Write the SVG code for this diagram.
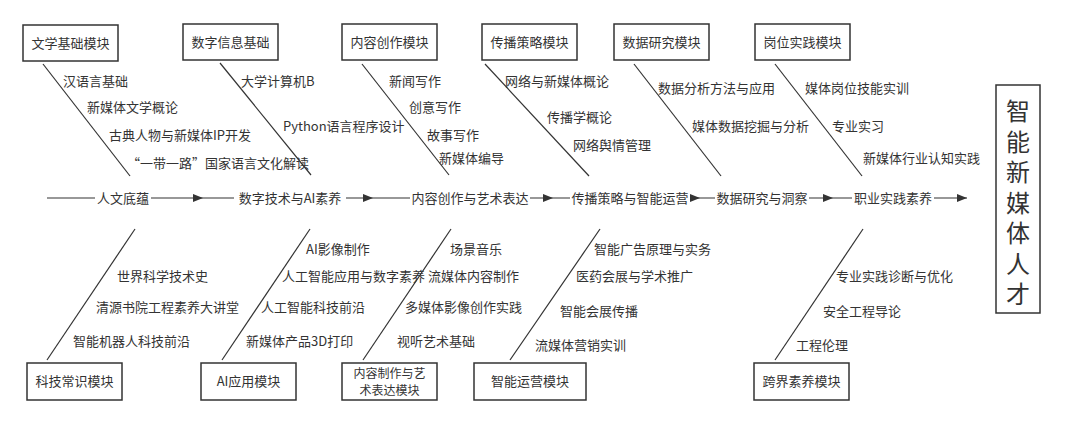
<svg xmlns="http://www.w3.org/2000/svg" width="1080" height="423" viewBox="0 0 1080 423">
<style>
text{font-family:"Noto Sans CJK SC","Noto Sans",sans-serif;font-size:13px;fill:#333}
.box{fill:#fff;stroke:#333;stroke-width:1.5}
.ln{stroke:#333;stroke-width:1.2;fill:none}
.ax{font-size:13px;text-anchor:middle}
.bt{text-anchor:middle;font-size:13px}
.b2{text-anchor:middle;font-size:12px}
.big{font-size:24px;text-anchor:middle}
</style>
<defs><marker id="ar" markerWidth="10" markerHeight="8" refX="10" refY="4" orient="auto" markerUnits="userSpaceOnUse"><path d="M0,0L10,4L0,8z" fill="#333"/></marker></defs>
<rect width="1080" height="423" fill="#fff"/>
<g id="connectors">
<line class="ln" x1="47" y1="198" x2="203" y2="198" marker-end="url(#ar)"/>
<line class="ln" x1="203" y1="198" x2="373" y2="198" marker-end="url(#ar)"/>
<line class="ln" x1="373" y1="198" x2="553" y2="198" marker-end="url(#ar)"/>
<line class="ln" x1="553" y1="198" x2="700" y2="198" marker-end="url(#ar)"/>
<line class="ln" x1="700" y1="198" x2="833" y2="198" marker-end="url(#ar)"/>
<line class="ln" x1="833" y1="198" x2="967" y2="198" marker-end="url(#ar)"/>
<line class="ln" x1="43" y1="64" x2="130" y2="176"/>
<line class="ln" x1="220" y1="63" x2="311" y2="175"/>
<line class="ln" x1="362" y1="64" x2="449" y2="175"/>
<line class="ln" x1="485" y1="64" x2="589" y2="176"/>
<line class="ln" x1="634" y1="64" x2="721" y2="176"/>
<line class="ln" x1="775" y1="64" x2="862" y2="176"/>
<line class="ln" x1="135" y1="229" x2="47" y2="360"/>
<line class="ln" x1="310" y1="229" x2="222" y2="360"/>
<line class="ln" x1="451" y1="229" x2="363" y2="360"/>
<line class="ln" x1="600" y1="229" x2="510" y2="360"/>
<line class="ln" x1="863" y1="229" x2="775" y2="360"/>
</g>
<g id="axis-labels">
<rect x="95" y="190" width="56" height="16" fill="#fff"/><text class="ax" x="123" y="203">人文底蕴</text>
<rect x="234" y="190" width="112" height="16" fill="#fff"/><text class="ax" x="290" y="203">数字技术与AI素养</text>
<rect x="410" y="190" width="120" height="16" fill="#fff"/><text class="ax" x="470" y="203">内容创作与艺术表达</text>
<rect x="570" y="190" width="120" height="16" fill="#fff"/><text class="ax" x="630" y="203">传播策略与智能运营</text>
<rect x="715" y="190" width="94" height="16" fill="#fff"/><text class="ax" x="762" y="203">数据研究与洞察</text>
<rect x="852" y="190" width="82" height="16" fill="#fff"/><text class="ax" x="893" y="203">职业实践素养</text>
</g>
<g id="n1"><rect class="box" x="23" y="25" width="95" height="36"/><text class="bt" x="70.5" y="48">文学基础模块</text></g>
<g id="n2"><rect class="box" x="183" y="24" width="95" height="36"/><text class="bt" x="230.5" y="47">数字信息基础</text></g>
<g id="n3"><rect class="box" x="342" y="24" width="95" height="36"/><text class="bt" x="389.5" y="47">内容创作模块</text></g>
<g id="n4"><rect class="box" x="482" y="24" width="95" height="36"/><text class="bt" x="529.5" y="47">传播策略模块</text></g>
<g id="n5"><rect class="box" x="614" y="24" width="95" height="36"/><text class="bt" x="661.5" y="47">数据研究模块</text></g>
<g id="n6"><rect class="box" x="755" y="24" width="95" height="36"/><text class="bt" x="802.5" y="47">岗位实践模块</text></g>
<g id="n7"><rect class="box" x="27" y="363" width="95" height="37"/><text class="bt" x="74.5" y="386">科技常识模块</text></g>
<g id="n8"><rect class="box" x="201" y="363" width="95" height="37"/><text class="bt" x="248.5" y="386">AI应用模块</text></g>
<g id="n9"><rect class="box" x="342" y="363" width="95" height="37"/><text class="b2" x="389.5" y="378">内容制作与艺</text><text class="b2" x="389.5" y="395">术表达模块</text></g>
<g id="n10"><rect class="box" x="474" y="363" width="112" height="37"/><text class="bt" x="530" y="386">智能运营模块</text></g>
<g id="n11"><rect class="box" x="754" y="363" width="95" height="37"/><text class="bt" x="801.5" y="386">跨界素养模块</text></g>
<g id="goal"><rect class="box" x="996" y="85" width="44" height="228"/>
<text class="big" x="1018" y="120">智</text>
<text class="big" x="1018" y="150.5">能</text>
<text class="big" x="1018" y="181">新</text>
<text class="big" x="1018" y="211.5">媒</text>
<text class="big" x="1018" y="242">体</text>
<text class="big" x="1018" y="272.5">人</text>
<text class="big" x="1018" y="303">才</text>
</g>
<g id="items">
<text x="63" y="86">汉语言基础</text>
<text x="87" y="112">新媒体文学概论</text>
<text x="109" y="140">古典人物与新媒体IP开发</text>
<text x="127" y="168">“一带一路”国家语言文化解读</text>
<text x="241" y="86">大学计算机B</text>
<text x="283" y="131">Python语言程序设计</text>
<text x="389" y="86">新闻写作</text>
<text x="409" y="112">创意写作</text>
<text x="427" y="140">故事写作</text>
<text x="439" y="163">新媒体编导</text>
<text x="505" y="86">网络与新媒体概论</text>
<text x="547" y="122">传播学概论</text>
<text x="573" y="150">网络舆情管理</text>
<text x="658" y="93">数据分析方法与应用</text>
<text x="692" y="131">媒体数据挖掘与分析</text>
<text x="805" y="93">媒体岗位技能实训</text>
<text x="832" y="131">专业实习</text>
<text x="863" y="163">新媒体行业认知实践</text>
<text x="117" y="281">世界科学技术史</text>
<text x="96" y="312">清源书院工程素养大讲堂</text>
<text x="73" y="346">智能机器人科技前沿</text>
<text x="306" y="254">AI影像制作</text>
<text x="282" y="281">人工智能应用与数字素养</text>
<text x="261" y="312">人工智能科技前沿</text>
<text x="246" y="346">新媒体产品3D打印</text>
<text x="450" y="254">场景音乐</text>
<text x="428" y="281">流媒体内容制作</text>
<text x="405" y="312">多媒体影像创作实践</text>
<text x="397" y="346">视听艺术基础</text>
<text x="594" y="254">智能广告原理与实务</text>
<text x="576" y="281">医药会展与学术推广</text>
<text x="560" y="316">智能会展传播</text>
<text x="535" y="350">流媒体营销实训</text>
<text x="836" y="281">专业实践诊断与优化</text>
<text x="823" y="316">安全工程导论</text>
<text x="796" y="350">工程伦理</text>
</g>
</svg>
